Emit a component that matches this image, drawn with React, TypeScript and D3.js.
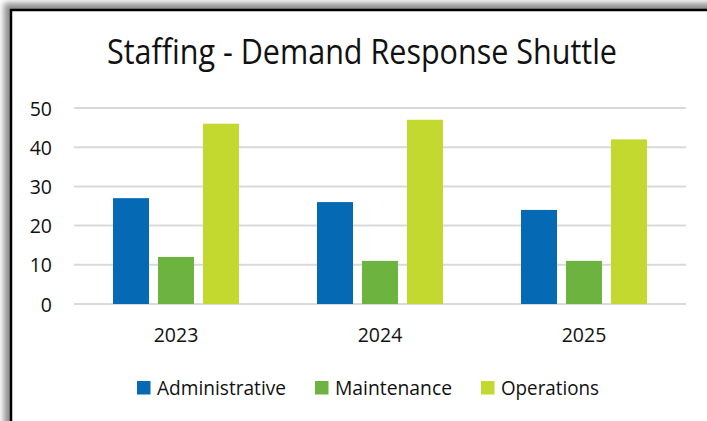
import React from "react";
import * as d3 from "d3";

const years = ["2023", "2024", "2025"];
const seriesNames = ["Administrative", "Maintenance", "Operations"];
const administrative = [27, 26, 24];
const maintenance = [12, 11, 11];
const operations = [46, 47, 42];
const yTicks = [0, 10, 20, 30, 40, 50];
const colors = ["#0569b4", "#6db33f", "#c3d92f"];

const W = 707;
const H = 421;
const FONT = "'Open Sans', 'Noto Sans', sans-serif";

export default function App() {
  const values = [administrative, maintenance, operations];
  const x0 = d3.scaleBand().domain(years).range([74, 686]).paddingInner(0).paddingOuter(0);
  const x1 = d3
    .scaleBand()
    .domain(seriesNames)
    .range([0, x0.bandwidth()])
    .paddingInner(0.2)
    .paddingOuter(0.867);
  const y = d3.scaleLinear().domain([0, 50]).range([304, 108]);

  const legendX = [137, 315, 481];
  const legendW = [129, 117, 98];

  return (
    <svg
      width={W}
      height={H}
      style={{ position: "absolute", left: 0, top: 0, background: "#fff" }}
    >
      <defs>
        <filter id="sh" x="-10%" y="-10%" width="120%" height="120%">
          <feGaussianBlur stdDeviation="3" />
        </filter>
      </defs>
      <rect x={4} y={3} width={760} height={480} fill="#8c8c8c" filter="url(#sh)" />
      <rect x={11} y={10} width={740} height={460} fill="#fff" stroke="#000" strokeWidth={2.5} />

      <text
        x={107}
        y={64}
        fontFamily={FONT}
        fontSize={35}
        textLength={510}
        lengthAdjust="spacingAndGlyphs"
        fill="#111"
      >
        Staffing - Demand Response Shuttle
      </text>

      {yTicks.map((t) => (
        <g key={t}>
          <line x1={74} x2={686} y1={y(t)} y2={y(t)} stroke="#d9d9d9" strokeWidth={2} />
          <text
            x={52}
            y={y(t) + 7.5}
            textAnchor="end"
            fontFamily={FONT}
            fontSize={19.5}
            fill="#111"
          >
            {t}
          </text>
        </g>
      ))}

      {years.map((yr, i) => (
        <g key={yr} transform={`translate(${x0(yr)},0)`}>
          {seriesNames.map((s, j) => (
            <rect
              key={s}
              x={x1(s)}
              y={y(values[j][i])}
              width={x1.bandwidth()}
              height={y(0) - y(values[j][i])}
              fill={colors[j]}
            />
          ))}
          <text
            x={x0.bandwidth() / 2}
            y={342}
            textAnchor="middle"
            fontFamily={FONT}
            fontSize={19.5}
            fill="#111"
          >
            {yr}
          </text>
        </g>
      ))}

      {seriesNames.map((s, j) => (
        <g key={s} transform={`translate(${legendX[j]},381)`}>
          <rect x={0} y={0} width={13.5} height={13.5} fill={colors[j]} />
          <text
            x={20}
            y={13.5}
            fontFamily={FONT}
            fontSize={19.5}
            textLength={legendW[j]}
            lengthAdjust="spacingAndGlyphs"
            fill="#111"
          >
            {s}
          </text>
        </g>
      ))}
    </svg>
  );
}
